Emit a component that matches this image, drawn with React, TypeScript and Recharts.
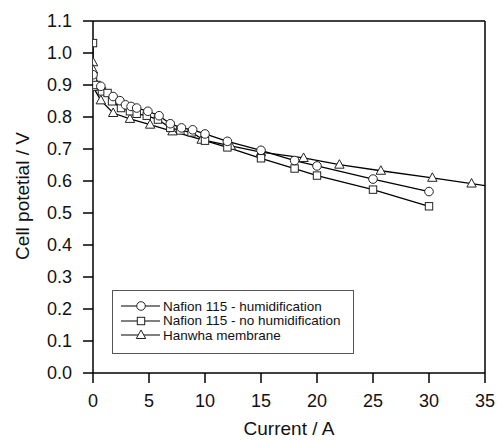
import React from "react";
import {
  LineChart,
  Line,
  XAxis,
  YAxis,
  Legend,
  ReferenceLine,
} from "recharts";

// Nafion 115 - humidification (circles)
const humidCurrent = [0, 0.7, 1.8, 2.4, 2.9, 3.4, 3.9, 4.9, 5.9, 6.9, 7.9, 8.9, 10, 12, 15, 18, 20, 25, 30];
const humidVoltage = [0.932, 0.896, 0.864, 0.851, 0.838, 0.833, 0.828, 0.818, 0.804, 0.779, 0.766, 0.76, 0.747, 0.724, 0.696, 0.664, 0.647, 0.606, 0.567];

// Nafion 115 - no humidification (squares)
const dryCurrent = [0, 0, 0.3, 0.8, 1.3, 1.7, 2.5, 3.3, 3.9, 4.8, 5.8, 6.9, 7.8, 8.8, 10, 12, 15, 18, 20, 25, 30];
const dryVoltage = [1.031, 0.917, 0.9, 0.88, 0.875, 0.849, 0.828, 0.818, 0.81, 0.804, 0.792, 0.766, 0.758, 0.752, 0.726, 0.705, 0.671, 0.639, 0.617, 0.573, 0.521];

// Hanwha membrane (triangles) - last point runs past the frame
const hanwhaCurrent = [0, 0, 0, 0.7, 1.8, 3.3, 5.1, 7.1, 9.7, 12.3, 15, 18.8, 22, 25.7, 30.3, 33.8, 36];
const hanwhaVoltage = [0.971, 0.948, 0.894, 0.852, 0.8125, 0.794, 0.776, 0.755, 0.729, 0.71, 0.69, 0.672, 0.651, 0.632, 0.61, 0.592, 0.58];

const seriesNames = [
  "Nafion 115 - humidification",
  "Nafion 115 - no humidification",
  "Hanwha membrane",
];

const xTicks = [0, 5, 10, 15, 20, 25, 30, 35];
const yTicks = [0, 0.1, 0.2, 0.3, 0.4, 0.5, 0.6, 0.7, 0.8, 0.9, 1.0, 1.1];

const zip = (xs: number[], ys: number[]) =>
  xs.map((x, i) => ({ current: x, voltage: ys[i] }));

const humidData = zip(humidCurrent, humidVoltage);
const dryData = zip(dryCurrent, dryVoltage);
const hanwhaData = zip(hanwhaCurrent, hanwhaVoltage);

const FONT = "'Liberation Sans', Arial, sans-serif";
const INK = "#111";
const MARK = "#222";

function drawShape(kind: string, cx: number, cy: number, key?: string) {
  if (kind === "circle") {
    return <circle key={key} cx={cx} cy={cy} r={4.3} fill="#fff" stroke={MARK} strokeWidth={1} />;
  }
  if (kind === "square") {
    return <rect key={key} x={cx - 3.7} y={cy - 3.7} width={7.4} height={7.4} fill="#fff" stroke={MARK} strokeWidth={1} />;
  }
  return (
    <polygon
      key={key}
      points={`${cx},${cy - 5} ${cx - 4.7},${cy + 3.5} ${cx + 4.7},${cy + 3.5}`}
      fill="#fff"
      stroke={MARK}
      strokeWidth={1}
    />
  );
}

const makeDot = (kind: string) => (props: any) => {
  const { cx, cy, index, payload } = props;
  if (cx == null || cy == null || (payload && payload.current > 35)) {
    return <g key={`${kind}-${index}`} />;
  }
  return drawShape(kind, cx, cy, `${kind}-${index}`);
};

const legendKinds = ["circle", "square", "triangle"];

function LegendBox() {
  return (
    <div
      style={{
        width: 242,
        height: 64,
        border: "1px solid #555",
        boxSizing: "border-box",
        paddingTop: 8,
        fontFamily: FONT,
        fontSize: 13.5,
        color: INK,
        background: "#fff",
      }}
    >
      {seriesNames.map((name, i) => (
        <div key={name} style={{ display: "flex", alignItems: "center", height: 14.6, whiteSpace: "nowrap" }}>
          <svg width={50} height={14} style={{ flex: "none" }}>
            <line x1={8} y1={7} x2={47} y2={7} stroke="#000" strokeWidth={1.2} />
            {drawShape(legendKinds[i], 28, 7)}
          </svg>
          <span style={{ lineHeight: "13px" }}>{name}</span>
        </div>
      ))}
    </div>
  );
}

export default function App() {
  return (
    <div style={{ position: "absolute", left: 0, top: 0, width: 498, height: 440, background: "#fff" }}>
      <LineChart width={498} height={440} margin={{ top: 21, right: 13, bottom: 0, left: 0 }}>
        <XAxis
          type="number"
          dataKey="current"
          domain={[0, 35]}
          ticks={xTicks}
          allowDataOverflow
          height={67}
          tickSize={10}
          tickMargin={11}
          axisLine={{ stroke: "#000", strokeWidth: 1.5 }}
          tickLine={{ stroke: "#000", strokeWidth: 1.5 }}
          tick={{ fill: INK, fontSize: 18, fontFamily: FONT }}
          label={{
            content: () => (
              <text x={289} y={435} textAnchor="middle" fill={INK} fontSize={19} fontFamily={FONT}>
                Current / A
              </text>
            ),
          }}
        />
        <YAxis
          type="number"
          dataKey="voltage"
          domain={[0, 1.1]}
          ticks={yTicks}
          allowDataOverflow
          width={93}
          tickSize={10}
          tickMargin={11}
          tickFormatter={(v: number) => v.toFixed(1)}
          axisLine={{ stroke: "#000", strokeWidth: 1.5 }}
          tickLine={{ stroke: "#000", strokeWidth: 1.5 }}
          tick={{ fill: INK, fontSize: 18, fontFamily: FONT }}
          label={{
            content: () => (
              <text
                x={29}
                y={196}
                transform="rotate(-90 29 196)"
                textAnchor="middle"
                fill={INK}
                fontSize={19}
                fontFamily={FONT}
              >
                Cell potetial / V
              </text>
            ),
          }}
        />
        <ReferenceLine y={1.1} stroke="#000" strokeWidth={1.5} />
        <ReferenceLine x={35} stroke="#000" strokeWidth={1.5} />
        <Line
          data={hanwhaData}
          dataKey="voltage"
          name={seriesNames[2]}
          stroke="#000"
          strokeWidth={1.3}
          dot={makeDot("triangle")}
          isAnimationActive={false}
        />
        <Line
          data={dryData}
          dataKey="voltage"
          name={seriesNames[1]}
          stroke="#000"
          strokeWidth={1.3}
          dot={makeDot("square")}
          isAnimationActive={false}
        />
        <Line
          data={humidData}
          dataKey="voltage"
          name={seriesNames[0]}
          stroke="#000"
          strokeWidth={1.3}
          dot={makeDot("circle")}
          isAnimationActive={false}
        />
        <Legend
          layout="vertical"
          align="center"
          verticalAlign="middle"
          content={() => <LegendBox />}
          wrapperStyle={{ left: 112, top: 290, width: 242, height: 64 }}
        />
      </LineChart>
    </div>
  );
}
